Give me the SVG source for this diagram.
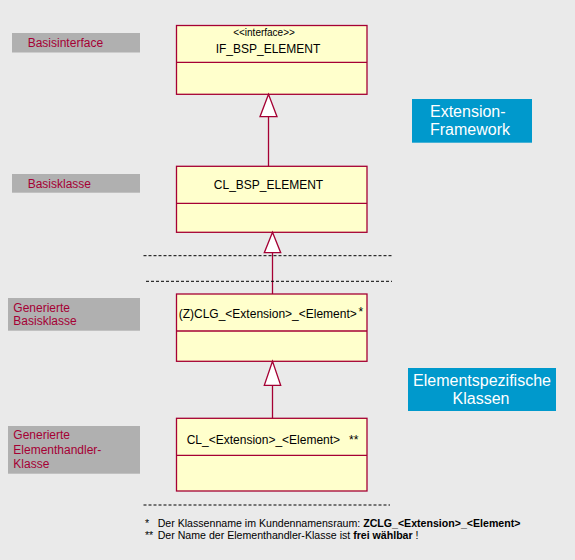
<svg xmlns="http://www.w3.org/2000/svg" width="575" height="560" viewBox="0 0 575 560">
<style>
.bg{fill:#EAEAEA}
.lbl{fill:#B0B0B0}
.lt{font-family:"Liberation Sans",Arial,sans-serif;font-size:12px;fill:#A50034}
.cls{fill:#FFFFCC;stroke:#A50034;stroke-width:1.3}
.div{stroke:#A50034;stroke-width:1.3}
.ct{font-family:"Liberation Sans",Arial,sans-serif;font-size:12px;fill:#000}
.st{font-family:"Liberation Sans",Arial,sans-serif;font-size:10px;fill:#000}
.blue{fill:#0099CC}
.bt{font-family:"Liberation Sans",Arial,sans-serif;font-size:16px;fill:#FFFFFF}
.conn{stroke:#A50034;stroke-width:1.3;fill:none}
.tri{fill:#FFFFFF;stroke:#A50034;stroke-width:1.3}
.dash{stroke:#000;stroke-width:1;stroke-dasharray:3 2;fill:none}
.fn{font-family:"Liberation Sans",Arial,sans-serif;font-size:10.6px;fill:#000}
</style>
<rect class="bg" x="0" y="0" width="575" height="560"/>

<g id="label-basisinterface">
<rect class="lbl" x="12" y="33" width="128" height="19.5"/>
<text class="lt" x="27.7" y="47">Basisinterface</text>
</g>
<g id="label-basisklasse">
<rect class="lbl" x="12" y="174" width="128" height="18.7"/>
<text class="lt" x="27.7" y="188">Basisklasse</text>
</g>
<g id="label-gen-basisklasse">
<rect class="lbl" x="8" y="298" width="132" height="32.7"/>
<text class="lt" x="13.3" y="311.5">Generierte</text>
<text class="lt" x="13.3" y="325.2">Basisklasse</text>
</g>
<g id="label-gen-handler">
<rect class="lbl" x="8" y="426" width="132" height="47.7"/>
<text class="lt" x="13.3" y="439.3">Generierte</text>
<text class="lt" x="13.3" y="453.7">Elementhandler-</text>
<text class="lt" x="13.3" y="468.3">Klasse</text>
</g>

<g id="ext-framework">
<rect class="blue" x="412" y="99" width="120" height="43.7"/>
<text class="bt" x="430" y="116.7">Extension-</text>
<text class="bt" x="430" y="135">Framework</text>
</g>
<g id="elementspezifisch">
<rect class="blue" x="408" y="368" width="148" height="43"/>
<text class="bt" x="482" y="386" text-anchor="middle">Elementspezifische</text>
<text class="bt" x="481" y="404.3" text-anchor="middle">Klassen</text>
</g>

<g id="IF_BSP_ELEMENT">
<rect class="cls" x="176.5" y="25.5" width="190.5" height="68.8"/>
<line class="div" x1="176.5" y1="62.3" x2="367" y2="62.3"/>
<text class="st" x="264" y="35.7" text-anchor="middle">&lt;&lt;interface&gt;&gt;</text>
<text class="ct" x="268" y="52.7" text-anchor="middle">IF_BSP_ELEMENT</text>
</g>
<g id="CL_BSP_ELEMENT">
<rect class="cls" x="176.5" y="166.3" width="190.5" height="66"/>
<line class="div" x1="176.5" y1="203.3" x2="367" y2="203.3"/>
<text class="ct" x="268.5" y="188.7" text-anchor="middle">CL_BSP_ELEMENT</text>
</g>
<g id="ZCLG">
<rect class="cls" x="176.5" y="294" width="190.5" height="67.3"/>
<line class="div" x1="176.5" y1="331" x2="367" y2="331"/>
<text class="ct" x="178.7" y="317.7">(Z)CLG_&lt;Extension&gt;_&lt;Element&gt;</text>
<text class="ct" x="358.5" y="315.5">*</text>
</g>
<g id="CL_Ext_Element">
<rect class="cls" x="176.5" y="418.3" width="190.5" height="72.7"/>
<line class="div" x1="176.5" y1="455.3" x2="367" y2="455.3"/>
<text class="ct" x="186.7" y="444.3">CL_&lt;Extension&gt;_&lt;Element&gt;</text>
<text class="ct" x="349" y="444">**</text>
</g>

<g id="connectors">
<line class="conn" x1="268.5" y1="116.7" x2="268.5" y2="166.3"/>
<polygon class="tri" points="268.5,94.3 260,116.7 277,116.7"/>
<line class="conn" x1="272.5" y1="252.7" x2="272.5" y2="294"/>
<polygon class="tri" points="272.5,232.3 264.3,252.7 280.7,252.7"/>
<line class="conn" x1="272.5" y1="385.3" x2="272.5" y2="418.3"/>
<polygon class="tri" points="272.5,361.3 264.3,385.3 280.7,385.3"/>
</g>

<g id="separators">
<line class="dash" x1="143.5" y1="255.7" x2="392" y2="255.7"/>
<line class="dash" x1="146" y1="281.3" x2="392" y2="281.3"/>
<line class="dash" x1="143.5" y1="505" x2="390" y2="505"/>
</g>

<g id="footnotes">
<text class="fn" x="145" y="527">*</text>
<text class="fn" x="157.7" y="527">Der Klassenname im Kundennamensraum: <tspan font-weight="bold">ZCLG_&lt;Extension&gt;_&lt;Element&gt;</tspan></text>
<text class="fn" x="145" y="538.5">**</text>
<text class="fn" x="157.7" y="538.5">Der Name der Elementhandler-Klasse ist <tspan font-weight="bold">frei wählbar</tspan> !</text>
</g>
</svg>
